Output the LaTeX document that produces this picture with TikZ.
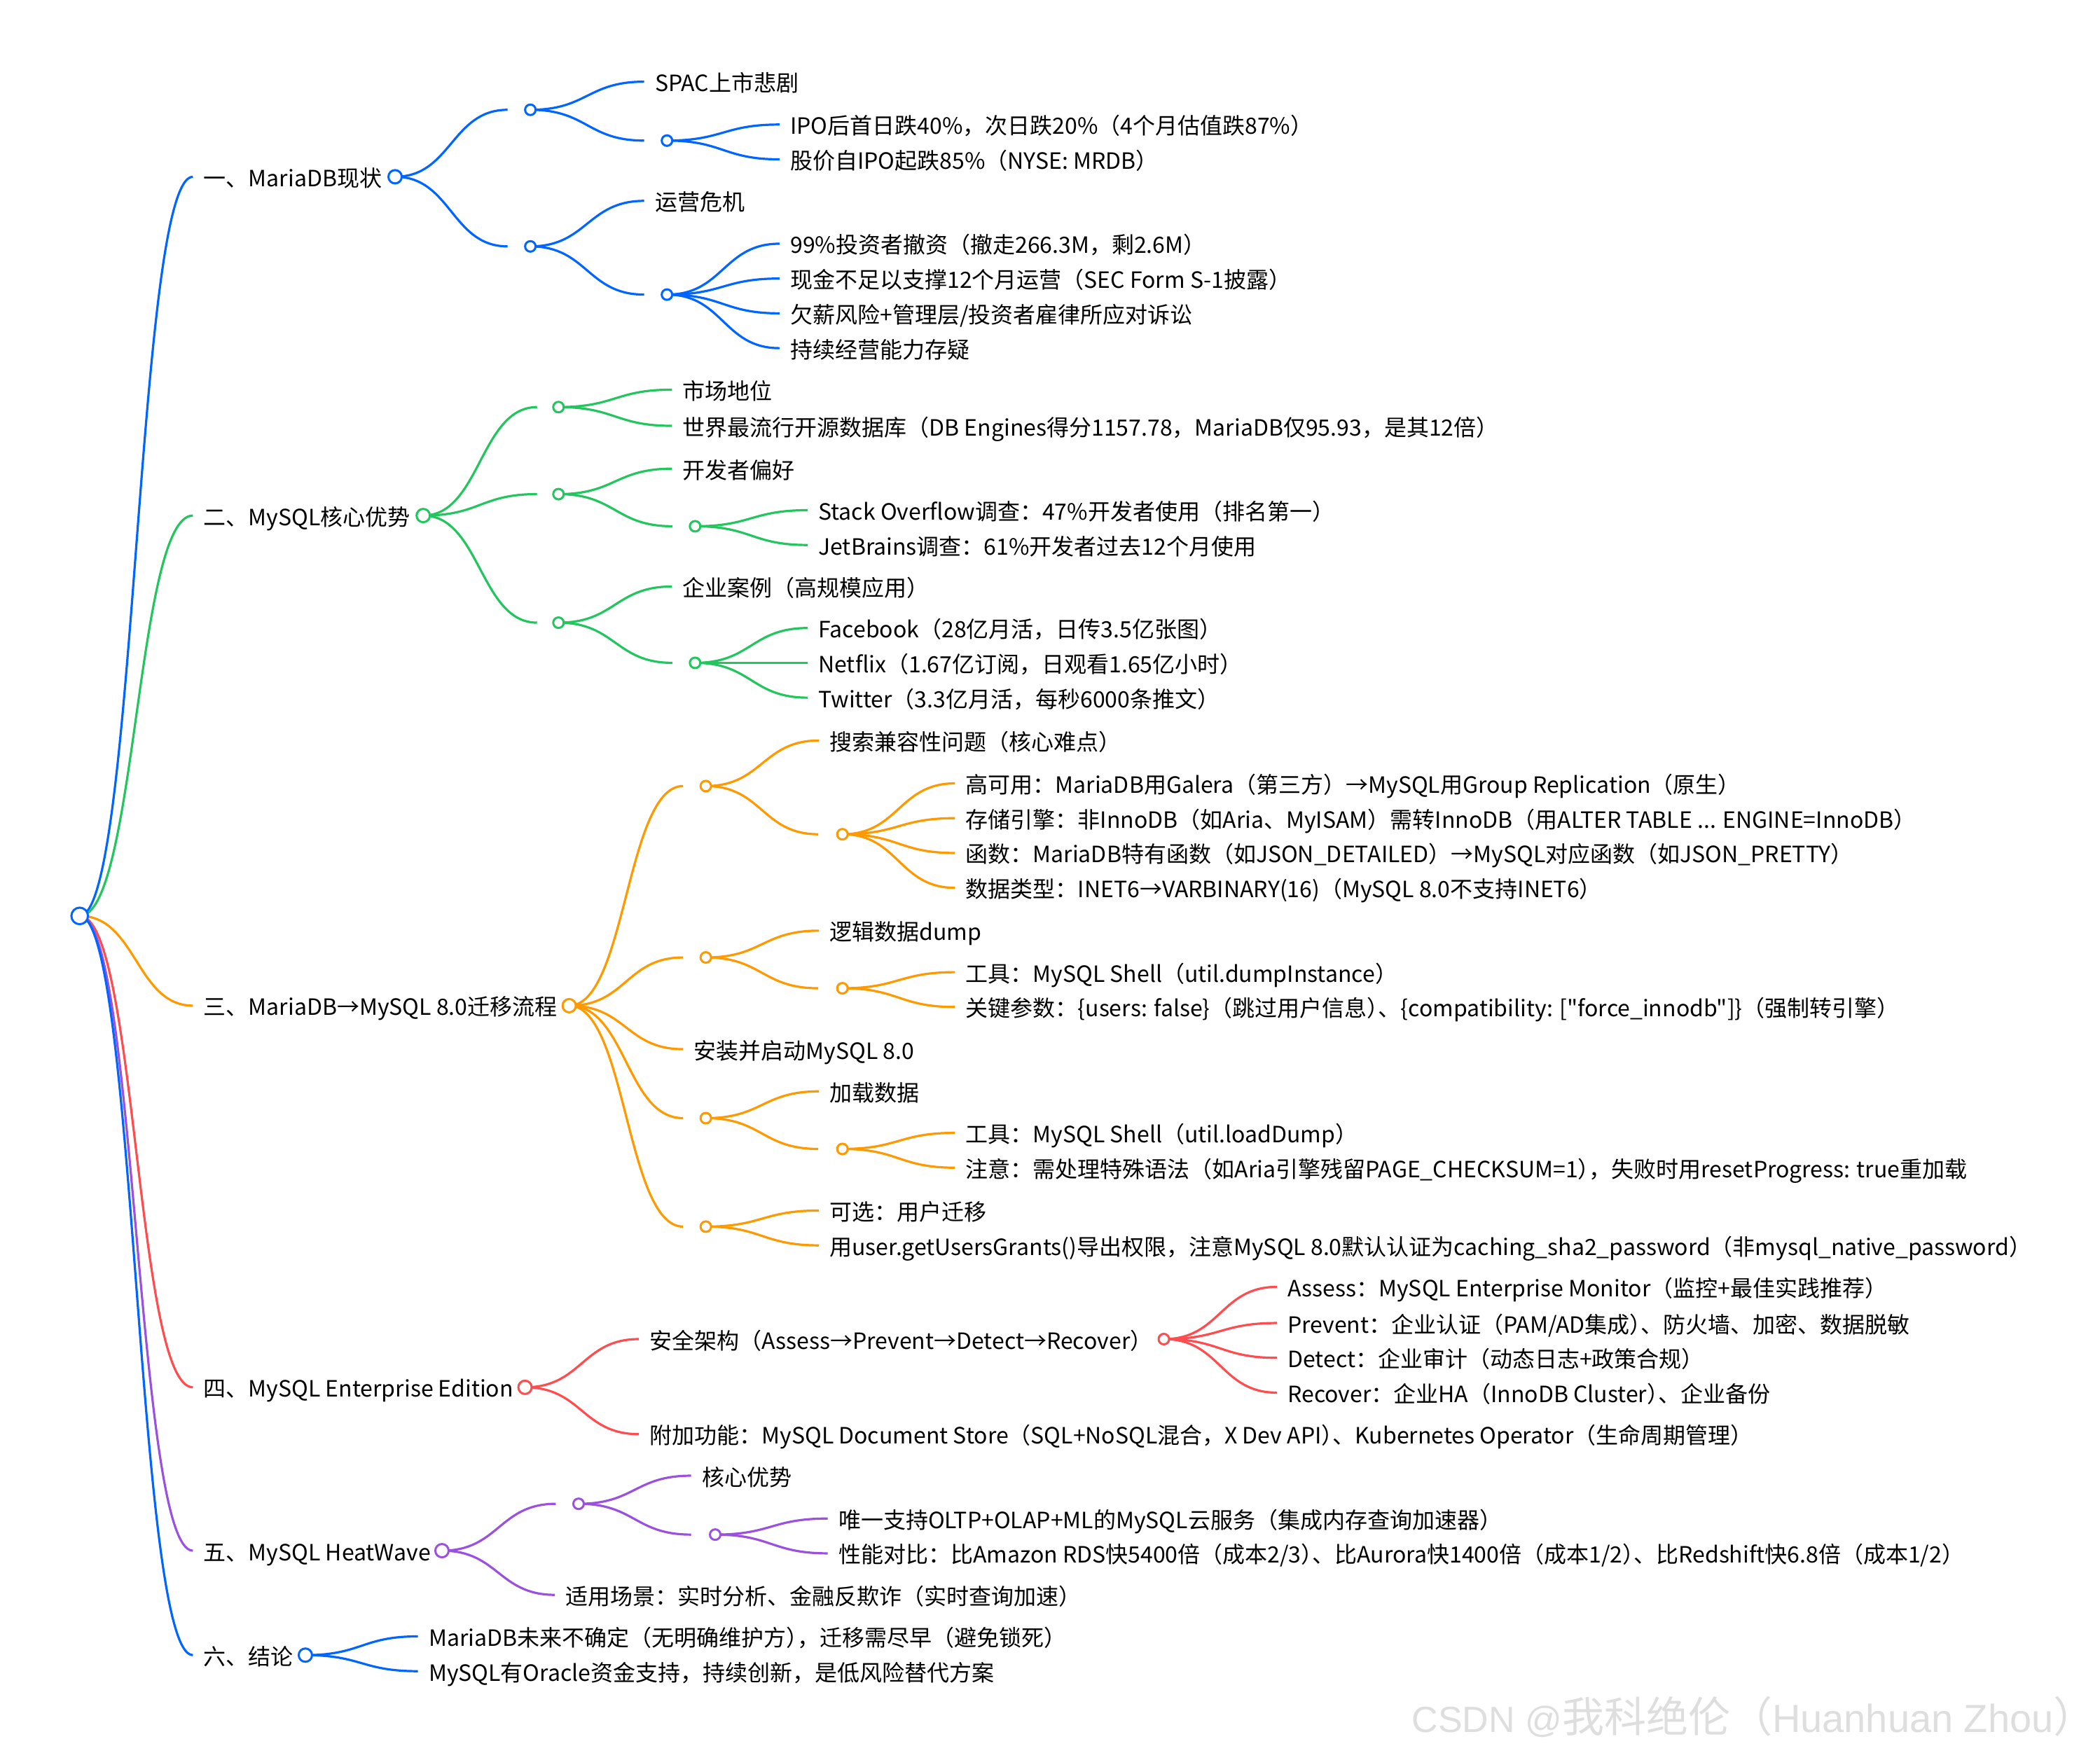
\documentclass[tikz,border=0pt]{standalone}
\usepackage{fontspec}
\setmainfont{Noto Sans CJK SC}[Ligatures=TeXOff]
\newfontfamily\markfont{Liberation Sans}
\usetikzlibrary{calc,backgrounds}

\definecolor{mmblue}{HTML}{0066FF}
\definecolor{mmgreen}{HTML}{22C55E}
\definecolor{mmorange}{HTML}{FF9900}
\definecolor{mmred}{HTML}{FF4D4F}
\definecolor{mmpurple}{HTML}{9B51E0}

\newcommand{\tightp}{\kern-.5em}

\tikzset{
	label/.style = {anchor = west, inner xsep = 15.3pt, inner ysep = 0pt, text height = 33pt, text depth = 5pt, font = \fontsize{32pt}{36pt}\selectfont},
	dot/.style = {circle, draw = #1, fill = white, line width = 3pt, inner sep = 0pt, minimum size = 15pt},
	dotA/.style = {dot = #1, minimum size = 19pt},
	dotR/.style = {dot = #1, minimum size = 23.7pt},
	branch/.style = {line width = 3.2pt, to path = {let \p1 = (\tikztostart), \p2 = (\tikztotarget), \n1 = {(\x1+\x2)/2} in .. controls (\n1,\y1) and (\n1,\y2) .. (\tikztotarget)}}
}

\begin{document}
\begin{tikzpicture}[x = 1.912pt, y = -1.912pt]
		\useasboundingbox (0,0) rectangle (1568,1308.6);

		\node[dotR = mmblue] (R) at (59.5,684) {};

		% part one
		\node[label] (a) at (144,132) {一、MariaDB现状};
		\node[dotA = mmblue] (aD) at (295,132) {};
		\coordinate (a1) at (379,82);
		\node[dot = mmblue] (a1D) at (396,82) {};
		\node[label] (a1a) at (481,61) {SPAC上市悲剧};
		\coordinate (a1b) at (481,105);
		\node[dot = mmblue] (a1bD) at (498,105) {};
		\node[label] (a1b1) at (582,93) {IPO后首日跌40\%，次日跌20\%（4个月估值跌87\%）};
		\node[label] (a1b2) at (582,119) {股价自IPO起跌85\%（NYSE: MRDB）};
		\coordinate (a2) at (379,184);
		\node[dot = mmblue] (a2D) at (396,184) {};
		\node[label] (a2a) at (481,150) {运营危机};
		\coordinate (a2b) at (481,220);
		\node[dot = mmblue] (a2bD) at (498,220) {};
		\node[label] (a2b1) at (582,182) {99\%投资者撤资（撤走266.3M，剩2.6M）};
		\node[label] (a2b2) at (582,208) {现金不足以支撑12个月运营（SEC Form S-1披露）};
		\node[label] (a2b3) at (582,234) {欠薪风险+管理层/投资者雇律所应对诉讼};
		\node[label] (a2b4) at (582,260) {持续经营能力存疑};

		% part two
		\node[label] (b) at (144,385) {二、MySQL核心优势};
		\node[dotA = mmgreen] (bD) at (316,385) {};
		\coordinate (b1) at (401,304);
		\node[dot = mmgreen] (b1D) at (417,304) {};
		\node[label] (b1a) at (501.7,291) {市场地位};
		\node[label] (b1b) at (501.7,318) {世界最流行开源数据库（DB Engines得分1157.78，MariaDB仅95.93，是其12倍）};
		\coordinate (b2) at (401,369);
		\node[dot = mmgreen] (b2D) at (417,369) {};
		\node[label] (b2a) at (501.7,350) {开发者偏好};
		\coordinate (b2b) at (502,393);
		\node[dot = mmgreen] (b2bD) at (519,393) {};
		\node[label] (b2b1) at (603,381) {Stack Overflow调查：47\%开发者使用（排名第一）};
		\node[label] (b2b2) at (603,407) {JetBrains调查：61\%开发者过去12个月使用};
		\coordinate (b3) at (401,465);
		\node[dot = mmgreen] (b3D) at (417,465) {};
		\node[label] (b3a) at (501.7,438) {企业案例（高规模应用）};
		\coordinate (b3b) at (502,495);
		\node[dot = mmgreen] (b3bD) at (519,495) {};
		\node[label] (b3b1) at (603,469) {Facebook（28亿月活，日传3.5亿张图）};
		\node[label] (b3b2) at (603,495) {Netflix（1.67亿订阅，日观看1.65亿小时）};
		\node[label] (b3b3) at (603,521) {Twitter（3.3亿月活，每秒6000条推文）};

		% part three
		\node[label] (c) at (144,751) {三、MariaDB→MySQL 8.0迁移流程};
		\node[dotA = mmorange] (cD) at (425,751) {};
		\coordinate (c1) at (510,587);
		\node[dot = mmorange] (c1D) at (527,587) {};
		\node[label] (c1a) at (611.4,553) {搜索兼容性问题（核心难点）};
		\coordinate (c1b) at (611,623);
		\node[dot = mmorange] (c1bD) at (629,623) {};
		\node[label] (c1b1) at (713,585) {高可用：MariaDB用Galera（第三方）→MySQL用Group Replication（原生）};
		\node[label] (c1b2) at (713,611) {存储引擎：非InnoDB（如Aria、MyISAM）需转InnoDB（用ALTER TABLE ... ENGINE=InnoDB）};
		\node[label] (c1b3) at (713,637) {函数：MariaDB特有函数（如JSON\_DETAILED）→MySQL对应函数（如JSON\_PRETTY）};
		\node[label] (c1b4) at (713,663) {数据类型：INET6→VARBINARY(16)（MySQL 8.0不支持INET6）};
		\coordinate (c2) at (510,715);
		\node[dot = mmorange] (c2D) at (527,715) {};
		\node[label] (c2a) at (611.4,695) {逻辑数据dump};
		\coordinate (c2b) at (611,738);
		\node[dot = mmorange] (c2bD) at (629,738) {};
		\node[label] (c2b1) at (713,726) {工具：MySQL Shell（util.dumpInstance）};
		\node[label] (c2b2) at (713,752) {关键参数：\{users: false\}（跳过用户信息）\tightp、\{compatibility: ["force\_innodb"]\}（强制转引擎）};
		\node[label] (c3) at (510,783.5) {安装并启动MySQL 8.0};
		\coordinate (c4) at (510,835);
		\node[dot = mmorange] (c4D) at (527,835) {};
		\node[label] (c4a) at (611.4,815) {加载数据};
		\coordinate (c4b) at (611,858);
		\node[dot = mmorange] (c4bD) at (629,858) {};
		\node[label] (c4b1) at (713,846) {工具：MySQL Shell（util.loadDump）};
		\node[label] (c4b2) at (713,872) {注意：需处理特殊语法（如Aria引擎残留PAGE\_CHECKSUM=1）\tightp，失败时用resetProgress: true重加载};
		\coordinate (c5) at (510,916);
		\node[dot = mmorange] (c5D) at (527,916) {};
		\node[label] (c5a) at (611.4,904) {可选：用户迁移};
		\node[label] (c5b) at (611.4,930) {用user.getUsersGrants()导出权限，注意MySQL 8.0默认认证为caching\_sha2\_password（非mysql\_native\_password）};

		% part four
		\node[label] (d) at (144,1036) {四、MySQL Enterprise Edition};
		\node[dotA = mmred] (dD) at (392,1036) {};
		\node[label] (d1) at (477,1000) {安全架构（Assess→Prevent→Detect→Recover）};
		\node[dot = mmred] (d1D) at (869,1000) {};
		\node[label] (d1a) at (953.4,961) {Assess：MySQL Enterprise Monitor（监控+最佳实践推荐）};
		\node[label] (d1b) at (953.4,988) {Prevent：企业认证（PAM/AD集成）\tightp、防火墙、加密、数据脱敏};
		\node[label] (d1c) at (953.4,1014) {Detect：企业审计（动态日志+政策合规）};
		\node[label] (d1d) at (953.4,1040) {Recover：企业HA（InnoDB Cluster）\tightp、企业备份};
		\node[label] (d2) at (477,1071) {附加功能：MySQL Document Store（SQL+NoSQL混合，X Dev API）\tightp、Kubernetes Operator（生命周期管理）};

		% part five
		\node[label] (e) at (144,1158) {五、MySQL HeatWave};
		\node[dotA = mmpurple] (eD) at (330,1158) {};
		\coordinate (e1) at (415,1123);
		\node[dot = mmpurple] (e1D) at (432,1123) {};
		\node[label] (e1a) at (516,1102) {核心优势};
		\coordinate (e1b) at (516,1146);
		\node[dot = mmpurple] (e1bD) at (534,1146) {};
		\node[label] (e1b1) at (618,1134) {唯一支持OLTP+OLAP+ML的MySQL云服务（集成内存查询加速器）};
		\node[label] (e1b2) at (618,1160) {性能对比：比Amazon RDS快5400倍（成本2/3）\tightp、比Aurora快1400倍（成本1/2）\tightp、比Redshift快6.8倍（成本1/2）};
		\node[label] (e2) at (414.3,1191) {适用场景：实时分析、金融反欺诈（实时查询加速）};

		% part six
		\node[label] (f) at (144,1236) {六、结论};
		\node[dotA = mmblue] (fD) at (228,1236) {};
		\node[label] (f1) at (312,1222) {MariaDB未来不确定（无明确维护方）\tightp，迁移需尽早（避免锁死）};
		\node[label] (f2) at (312,1248) {MySQL有Oracle资金支持，持续创新，是低风险替代方案};

		\node[anchor = west, inner sep = 0pt, text = black!13, font = \markfont\fontsize{52pt}{64pt}\selectfont] (mark) at (1054,1282) {CSDN @{\rmfamily\fontsize{60pt}{64pt}\selectfont 我科绝伦（}\fontsize{56pt}{64pt}\selectfont Huanhuan Zhou{\rmfamily\fontsize{60pt}{64pt}\selectfont ）}};

		\begin{scope}[on background layer]
			\draw[branch, mmblue] (R.center) to (a.west);
			\draw[branch, mmgreen] (R.center) to (b.west);
			\draw[branch, mmorange] (R.center) to (c.west);
			\draw[branch, mmred] (R.center) to (d.west);
			\draw[branch, mmpurple] (R.center) to (e.west);
			\draw[branch, mmblue] (R.center) to (f.west);

			\draw[branch, mmblue] (aD.center) to (a1);
			\draw[branch, mmblue] (aD.center) to (a2);
			\draw[branch, mmblue] (a1D.center) to (a1a.west);
			\draw[branch, mmblue] (a1D.center) to (a1b);
			\draw[branch, mmblue] (a1bD.center) to (a1b1.west);
			\draw[branch, mmblue] (a1bD.center) to (a1b2.west);
			\draw[branch, mmblue] (a2D.center) to (a2a.west);
			\draw[branch, mmblue] (a2D.center) to (a2b);
			\draw[branch, mmblue] (a2bD.center) to (a2b1.west);
			\draw[branch, mmblue] (a2bD.center) to (a2b2.west);
			\draw[branch, mmblue] (a2bD.center) to (a2b3.west);
			\draw[branch, mmblue] (a2bD.center) to (a2b4.west);

			\draw[branch, mmgreen] (bD.center) to (b1);
			\draw[branch, mmgreen] (bD.center) to (b2);
			\draw[branch, mmgreen] (bD.center) to (b3);
			\draw[branch, mmgreen] (b1D.center) to (b1a.west);
			\draw[branch, mmgreen] (b1D.center) to (b1b.west);
			\draw[branch, mmgreen] (b2D.center) to (b2a.west);
			\draw[branch, mmgreen] (b2D.center) to (b2b);
			\draw[branch, mmgreen] (b2bD.center) to (b2b1.west);
			\draw[branch, mmgreen] (b2bD.center) to (b2b2.west);
			\draw[branch, mmgreen] (b3D.center) to (b3a.west);
			\draw[branch, mmgreen] (b3D.center) to (b3b);
			\draw[branch, mmgreen] (b3bD.center) to (b3b1.west);
			\draw[branch, mmgreen] (b3bD.center) to (b3b2.west);
			\draw[branch, mmgreen] (b3bD.center) to (b3b3.west);

			\draw[branch, mmorange] (cD.center) to (c1);
			\draw[branch, mmorange] (cD.center) to (c2);
			\draw[branch, mmorange] (cD.center) to (c3.west);
			\draw[branch, mmorange] (cD.center) to (c4);
			\draw[branch, mmorange] (cD.center) to (c5);
			\draw[branch, mmorange] (c1D.center) to (c1a.west);
			\draw[branch, mmorange] (c1D.center) to (c1b);
			\draw[branch, mmorange] (c1bD.center) to (c1b1.west);
			\draw[branch, mmorange] (c1bD.center) to (c1b2.west);
			\draw[branch, mmorange] (c1bD.center) to (c1b3.west);
			\draw[branch, mmorange] (c1bD.center) to (c1b4.west);
			\draw[branch, mmorange] (c2D.center) to (c2a.west);
			\draw[branch, mmorange] (c2D.center) to (c2b);
			\draw[branch, mmorange] (c2bD.center) to (c2b1.west);
			\draw[branch, mmorange] (c2bD.center) to (c2b2.west);
			\draw[branch, mmorange] (c4D.center) to (c4a.west);
			\draw[branch, mmorange] (c4D.center) to (c4b);
			\draw[branch, mmorange] (c4bD.center) to (c4b1.west);
			\draw[branch, mmorange] (c4bD.center) to (c4b2.west);
			\draw[branch, mmorange] (c5D.center) to (c5a.west);
			\draw[branch, mmorange] (c5D.center) to (c5b.west);

			\draw[branch, mmred] (dD.center) to (d1.west);
			\draw[branch, mmred] (dD.center) to (d2.west);
			\draw[branch, mmred] (d1D.center) to (d1a.west);
			\draw[branch, mmred] (d1D.center) to (d1b.west);
			\draw[branch, mmred] (d1D.center) to (d1c.west);
			\draw[branch, mmred] (d1D.center) to (d1d.west);

			\draw[branch, mmpurple] (eD.center) to (e1);
			\draw[branch, mmpurple] (eD.center) to (e2.west);
			\draw[branch, mmpurple] (e1D.center) to (e1a.west);
			\draw[branch, mmpurple] (e1D.center) to (e1b);
			\draw[branch, mmpurple] (e1bD.center) to (e1b1.west);
			\draw[branch, mmpurple] (e1bD.center) to (e1b2.west);

			\draw[branch, mmblue] (fD.center) to (f1.west);
			\draw[branch, mmblue] (fD.center) to (f2.west);
		\end{scope}
	\end{tikzpicture}
\end{document}
